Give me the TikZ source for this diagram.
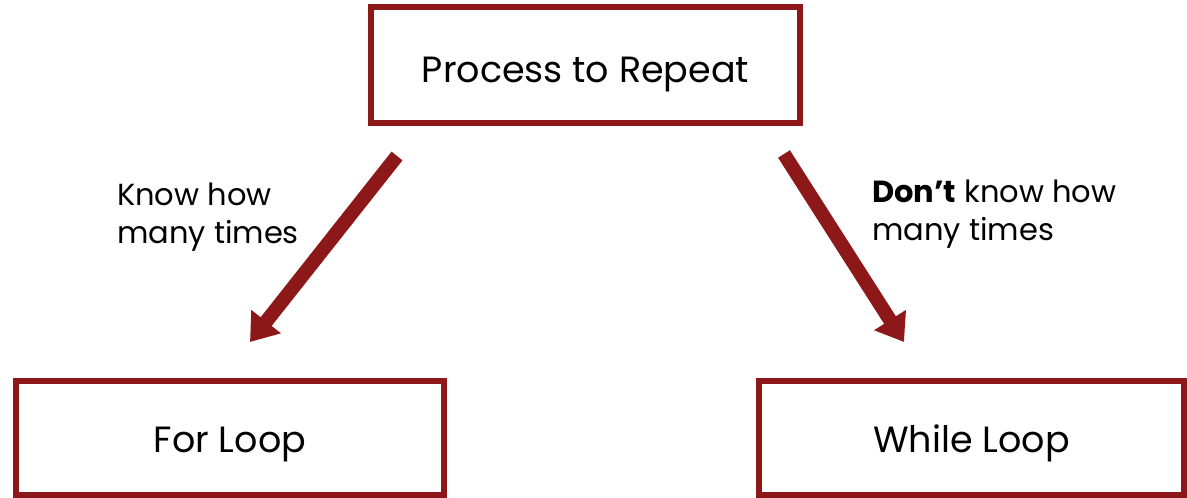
\documentclass[tikz,border=0pt]{standalone}
\usepackage{fontspec}
\setmainfont{Poppins}
\usetikzlibrary{arrows.meta}
\definecolor{maroon}{RGB}{140,24,26}
\tikzset{
  box/.style={draw=maroon, line width=6pt, minimum width=#1, minimum height=116pt, inner sep=0pt, font=\fontsize{36.5}{44}\selectfont},
  bigarrow/.style={draw=maroon, line width=14pt, -{Triangle[width=36pt,length=26pt]}},
  lbl/.style={align=left, anchor=base west, inner sep=0pt, font=\fontsize{30.5}{38}\selectfont}
}
\begin{document}
\begin{tikzpicture}[x=1pt,y=-1pt]
\useasboundingbox (0,0) rectangle (1187,498);
\node[box=429pt, text height=34pt, text depth=0pt] (top) at (585.5,65) {Process to Repeat};
\node[box=428pt, minimum height=114pt, text height=28pt, text depth=0pt] (for) at (230,438) {For Loop};
\node[box=425pt, minimum height=114pt, text height=28pt, text depth=0pt] (while) at (971.5,438) {While Loop};
\coordinate (ls) at (397,156);
\coordinate (le) at (250,342);
\coordinate (rs) at (784,154);
\coordinate (re) at (904,342);
\draw[bigarrow] (ls) -- (le);
\draw[bigarrow] (rs) -- (re);
\node[lbl] (know) at (117,243) {Know how\\many times};
\node[lbl] (dont) at (872,240) {\textbf{Don’t} know how\\many times};
\end{tikzpicture}
\end{document}
